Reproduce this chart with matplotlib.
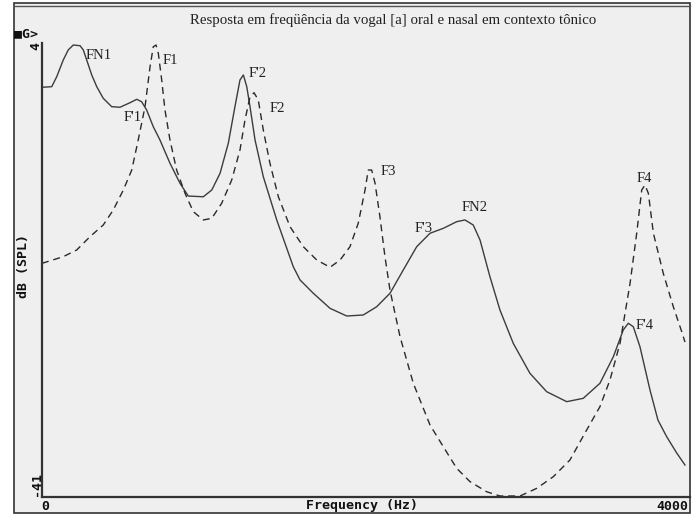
import matplotlib
matplotlib.use("Agg")
import matplotlib.pyplot as plt
from matplotlib.lines import Line2D
from matplotlib.patches import Rectangle

# ---- data (Hz, dB) ----
nasal_hz = [0, 60, 91, 131, 162, 193, 235, 255, 276, 307, 338, 378, 430, 481, 543,
            585, 615, 646, 687, 728, 790, 852, 903, 996, 1048, 1099, 1150, 1191,
            1222, 1243, 1264, 1284, 1315, 1366, 1449, 1551, 1593, 1675, 1778, 1881,
            1983, 2066, 2148, 2230, 2313, 2395, 2477, 2560, 2611, 2662, 2704, 2765,
            2827, 2909, 3012, 3115, 3239, 3341, 3444, 3527, 3588, 3619, 3650, 3691,
            3753, 3802, 3856, 3918, 3969]
nasal_db = [-0.39, -0.33, 0.66, 2.31, 3.31, 3.80, 3.73, 3.31, 2.31, 0.83, -0.33,
            -1.48, -2.31, -2.37, -1.92, -1.58, -1.82, -2.64, -4.30, -5.61, -7.92,
            -9.91, -11.17, -11.24, -10.57, -8.92, -5.94, -2.31, 0.33, 0.83, -0.33,
            -2.31, -5.61, -9.25, -13.54, -18.17, -19.49, -20.81, -22.30, -23.06,
            -22.96, -22.14, -20.81, -18.50, -16.19, -14.86, -14.37, -13.71, -13.54,
            -14.04, -15.53, -19.16, -22.47, -25.77, -28.74, -30.56, -31.55, -31.22,
            -29.73, -27.09, -24.45, -23.78, -24.12, -26.10, -30.39, -33.37, -35.02,
            -36.64, -37.83]

oral_hz = [0, 131, 214, 296, 378, 440, 502, 554, 594, 636, 667, 687, 704, 718, 739,
           759, 790, 831, 883, 934, 996, 1048, 1109, 1171, 1222, 1253, 1284, 1309,
           1335, 1366, 1407, 1459, 1531, 1613, 1696, 1778, 1840, 1901, 1952, 1994,
           2014, 2035, 2056, 2086, 2117, 2148, 2210, 2292, 2395, 2477, 2560, 2642,
           2745, 2827, 2951, 3054, 3156, 3259, 3362, 3444, 3506, 3568, 3630, 3671,
           3702, 3722, 3743, 3774, 3835, 3897, 3949, 3969]
oral_db = [-17.84, -17.18, -16.52, -15.20, -14.04, -12.55, -10.57, -8.59, -5.61,
           -2.31, 1.65, 3.63, 3.80, 2.98, 0.33, -2.64, -5.61, -8.59, -10.90, -12.72,
           -13.54, -13.38, -11.89, -9.58, -6.61, -3.63, -1.32, -0.93, -1.65, -4.62,
           -7.92, -11.24, -14.21, -16.19, -17.51, -18.23, -17.51, -16.19, -13.87,
           -10.57, -8.59, -8.59, -9.91, -13.22, -17.18, -20.48, -25.11, -29.73,
           -33.86, -36.01, -38.16, -39.48, -40.48, -40.9, -40.9, -40.14, -38.99,
           -37.33, -34.36, -32.05, -29.40, -25.77, -19.82, -14.86, -10.57, -10.08,
           -10.90, -14.86, -18.83, -22.14, -24.62, -25.64]

labels = ["FN1", "F1", "F'1", "F'2", "F2", "F3", "FN2", "F'3", "F4", "F'4"]
label_hz = [352, 790, 562, 1333, 1451, 2136, 2673, 2358, 3716, 3722]
label_db = [2.81, 2.31, -3.43, 0.93, -2.54, -8.69, -12.26, -14.34, -9.48, -24.05]

title = "Resposta em freqüência da vogal [a] oral e nasal em contexto tônico"
x_min, x_max = 0, 4000
y_min, y_max = -41, 4

W, H = 694, 515
fig = plt.figure(figsize=(W / 100, H / 100), dpi=100)
fig.patch.set_facecolor("white")

# frame / background
fig.patches.append(Rectangle((14 / W, 1 - 513 / H), (690 - 14) / W, (513 - 3) / H,
                             transform=fig.transFigure, facecolor="#efefef",
                             edgecolor="#333333", linewidth=1.2, zorder=-10))
fig.lines.append(Line2D([14 / W, 690 / W], [1 - 6 / H, 1 - 6 / H],
                        transform=fig.transFigure, color="#555555", linewidth=1.0,
                        zorder=-9))

ax = fig.add_axes([42 / W, 1 - 497 / H, (690 - 42) / W, (497 - 43) / H])
ax.set_facecolor("none")
ax.set_zorder(5)
ax.set_xlim(x_min, x_max)
ax.set_ylim(y_min, y_max)
for s in ["top", "right"]:
    ax.spines[s].set_visible(False)
for s in ["left", "bottom"]:
    ax.spines[s].set_color("#333333")
    ax.spines[s].set_linewidth(1.6)
ax.set_xticks([])
ax.set_yticks([])

ax.plot(nasal_hz, nasal_db, color="#3c3c3c", linewidth=1.0, clip_on=False)
ax.plot(oral_hz, oral_db, color="#2a2a2a", linewidth=1.0, linestyle=(0, (5, 3.5)),
        clip_on=False)

serif = "Liberation Serif"
for t, hx, dy in zip(labels, label_hz, label_db):
    ax.text(hx, dy, t, ha="center", va="center", family=serif, fontsize=10.5,
            color="#222222")

fig.text(393 / W, 1 - 20 / H, title, ha="center", va="center", family=serif,
         fontsize=10.7, color="#222222")

mono = "DejaVu Sans Mono"
kw = dict(family=mono, fontweight="bold", fontsize=9.5, color="#111111")
fig.text(14 / W, 1 - 34 / H, "\u25a0G>", ha="left", va="center", **kw)
fig.text(36 / W, 1 - 42 / H, str(y_max), ha="center", va="top", rotation=90, **kw)
fig.text(36 / W, 1 - 496 / H, str(y_min), ha="center", va="bottom", rotation=90, **kw)
fig.text(24 / W, 1 - 266 / H, "dB (SPL)", ha="center", va="center", rotation=90, **kw)
fig.text(45 / W, 1 - 506 / H, str(x_min), ha="center", va="center", **kw)
fig.text(688 / W, 1 - 506 / H, str(x_max), ha="right", va="center", **kw)
fig.text(362 / W, 1 - 506 / H, "Frequency (Hz)", ha="center", va="center", **kw)

fig.savefig("out.png", dpi=100, facecolor=fig.get_facecolor())
